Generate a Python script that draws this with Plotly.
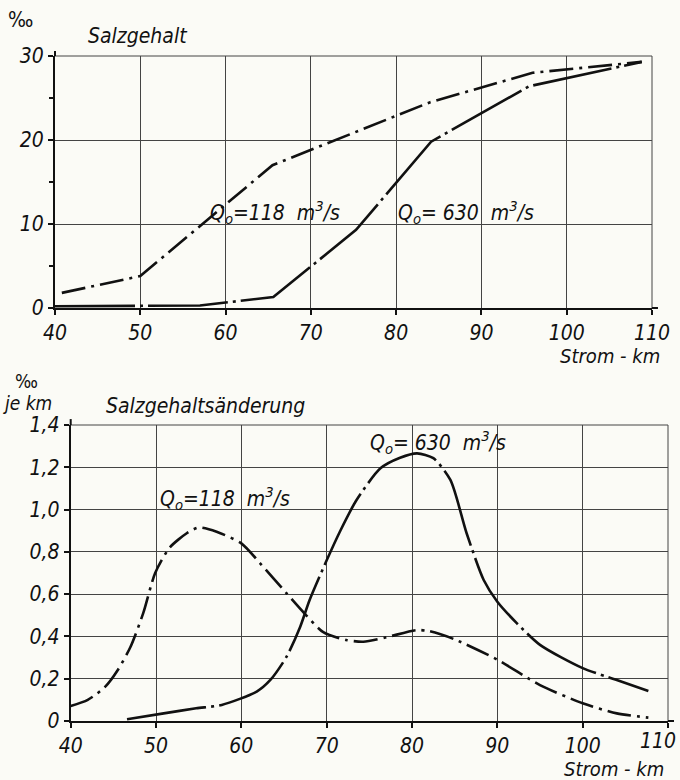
import plotly.graph_objects as go

# ---------------- data ----------------
top_km_118 = [40.8, 50, 65.5, 84, 96, 108.8]
top_sal_118 = [1.8, 3.8, 17.0, 24.5, 28.0, 29.3]

top_km_630 = [40, 57, 65.6, 75.3, 84.1, 95.6, 108.8]
top_sal_630 = [0.2, 0.3, 1.3, 9.3, 19.8, 26.4, 29.3]

bot_km_118 = [40, 42, 44, 45.5, 47, 48.5, 49.9, 51.6, 53.6, 55, 57.1, 60, 62.2, 65.3, 67.6,
              69.6, 72.3, 74.3, 77, 80.5, 82, 85, 90, 95, 100, 104, 107.7]
bot_chg_118 = [0.071, 0.1, 0.16, 0.24, 0.35, 0.51, 0.70, 0.82, 0.888, 0.915, 0.895, 0.84,
               0.746, 0.604, 0.50, 0.42, 0.383, 0.375, 0.396, 0.43, 0.425, 0.386, 0.29, 0.17,
               0.084, 0.036, 0.016]

bot_km_630 = [46.6, 50.9, 54.7, 57.7, 61.8, 63.4, 65.3, 66.9, 68.0, 70.0, 71.6, 73.5, 76.3,
              78.6, 80.6, 82.5, 84.5, 86.4, 88.4, 90, 92.3, 95, 100, 104, 107.7]
bot_chg_630 = [0.008, 0.036, 0.06, 0.076, 0.139, 0.194, 0.304, 0.446, 0.572, 0.76, 0.90, 1.045,
               1.195, 1.245, 1.266, 1.243, 1.14, 0.888, 0.667, 0.564, 0.462, 0.36, 0.25, 0.194,
               0.142]

x_ticks = [40, 50, 60, 70, 80, 90, 100, 110]
x_labels = ["40", "50", "60", "70", "80", "90", "100", "110"]
top_y_ticks = [0, 10, 20, 30]
bot_y_ticks = [0, 0.2, 0.4, 0.6, 0.8, 1.0, 1.2, 1.4]
bot_y_labels = ["0", "0,2", "0,4", "0,6", "0,8", "1,0", "1,2", "1,4"]

# ---------------- styling ----------------
W, H = 680, 780
BG = "#fbfbf6"
INK = "#111111"
FONT = "Liberation Sans Narrow, DejaVu Sans Condensed, Liberation Sans"
DASH_118 = "24px,6px,3px,6px"
DASH_630 = "80px,5px,3px,5px"


def px(x, y):
    return x / W, 1 - y / H


fig = go.Figure()

fig.add_trace(go.Scatter(x=top_km_118, y=top_sal_118, mode="lines", xaxis="x", yaxis="y",
                         line=dict(color=INK, width=2.6, dash=DASH_118), showlegend=False))
fig.add_trace(go.Scatter(x=top_km_630, y=top_sal_630, mode="lines", xaxis="x", yaxis="y",
                         line=dict(color=INK, width=2.6, dash=DASH_630), showlegend=False))
fig.add_trace(go.Scatter(x=bot_km_118, y=bot_chg_118, mode="lines", xaxis="x2", yaxis="y2",
                         line=dict(color=INK, width=2.6, dash=DASH_118, shape="spline",
                                   smoothing=0.7), showlegend=False))
fig.add_trace(go.Scatter(x=bot_km_630, y=bot_chg_630, mode="lines", xaxis="x2", yaxis="y2",
                         line=dict(color=INK, width=2.6, dash=DASH_630, shape="spline",
                                   smoothing=0.7), showlegend=False))

tickfont = dict(family=FONT, size=21, color=INK, style="italic")
common_x = dict(range=[40, 110], tickvals=x_ticks,
                showgrid=True, gridcolor="#444", gridwidth=1, zeroline=False, automargin=False,
                showline=True, linecolor=INK, linewidth=2, ticks="outside", ticklen=5,
                tickwidth=1.5, tickcolor=INK, tickfont=tickfont, fixedrange=True,
                ticklabeloverflow="allow")

# the last bottom tick label sits at the page edge; it is drawn as an annotation below
bot_x_labels = x_labels[:-1] + [""]

fig.update_layout(
    width=W, height=H,
    margin=dict(l=0, r=0, t=0, b=0),
    paper_bgcolor=BG, plot_bgcolor=BG,
    xaxis=dict(domain=[55 / W, 652 / W], anchor="y", ticktext=x_labels, **common_x),
    yaxis=dict(domain=[1 - 308 / H, 1 - 56 / H], anchor="x", range=[0, 30], automargin=False,
               tickvals=top_y_ticks, ticktext=[str(v) for v in top_y_ticks],
               showgrid=True, gridcolor="#444", gridwidth=1, zeroline=False,
               showline=True, linecolor=INK, linewidth=2, ticks="outside", ticklen=5,
               tickwidth=1.5, tickcolor=INK, tickfont=tickfont, ticklabeloverflow="allow",
               minor=dict(tickvals=[5, 15, 25], ticks="outside", ticklen=4, tickcolor=INK,
                          showgrid=False)),
    xaxis2=dict(domain=[70.7 / W, 668 / W], anchor="y2", ticktext=bot_x_labels, **common_x),
    yaxis2=dict(domain=[1 - 721 / H, 1 - 425 / H], anchor="x2", range=[0, 1.4],
                automargin=False, tickvals=bot_y_ticks, ticktext=bot_y_labels,
                showgrid=True, gridcolor="#444", gridwidth=1, zeroline=False,
                showline=True, linecolor=INK, linewidth=2, ticks="outside", ticklen=5,
                tickwidth=1.5, tickcolor=INK, tickfont=tickfont, ticklabeloverflow="allow"),
)

# frame edges (top and right) as thin lines, plus axis overshoot
shapes = []
for xr, yr in (("x", "y"), ("x2", "y2")):
    shapes.append(dict(type="line", xref=f"{xr} domain", yref=f"{yr} domain",
                       x0=0, x1=1, y0=1, y1=1, line=dict(color="#444", width=1)))
    shapes.append(dict(type="line", xref=f"{xr} domain", yref=f"{yr} domain",
                       x0=1, x1=1, y0=0, y1=1, line=dict(color="#444", width=1)))
    shapes.append(dict(type="line", xref=f"{xr} domain", yref=f"{yr} domain",
                       x0=1, x1=1.01, y0=0, y1=0, line=dict(color=INK, width=2)))
    shapes.append(dict(type="line", xref=f"{xr} domain", yref=f"{yr} domain",
                       x0=0, x1=0, y0=1, y1=1.02, line=dict(color=INK, width=2)))
fig.update_layout(shapes=shapes)

ann = []


def add_text(x, y, text, size, xanchor="left", yanchor="middle", style="italic"):
    fx, fy = px(x, y)
    ann.append(dict(xref="paper", yref="paper", x=fx, y=fy, text=text, showarrow=False,
                    xanchor=xanchor, yanchor=yanchor,
                    font=dict(family=FONT, color=INK, size=size, style=style)))


add_text(6, 20, "‰", 21, style="normal")
add_text(86, 36, "Salzgehalt", 21)
add_text(662, 356, "Strom - km", 20, xanchor="right")
add_text(208, 212, "Q<sub>o</sub>=118  m<sup>3</sup>/s", 21)
add_text(396, 212, "Q<sub>o</sub>= 630  m<sup>3</sup>/s", 21)

add_text(26, 381, "‰", 19, xanchor="center", style="normal")
add_text(27, 403, "je km", 19, xanchor="center")
add_text(104, 406, "Salzgehaltsänderung", 21)
add_text(368, 442, "Q<sub>o</sub>= 630  m<sup>3</sup>/s", 21)
add_text(158, 498, "Q<sub>o</sub>=118  m<sup>3</sup>/s", 21)
add_text(666, 769, "Strom - km", 20, xanchor="right")

# last bottom x tick label, nudged left so it stays inside the page
ann.append(dict(xref="x2", yref="y2 domain", x=x_ticks[-1], y=0, text=x_labels[-1],
                showarrow=False, xanchor="right", yanchor="top", xshift=10, yshift=-6,
                font=dict(family=FONT, color=INK, size=21, style="italic")))

fig.update_layout(annotations=ann)

fig.write_html("out.html", config={"displayModeBar": False})

# remove the default page margin so the figure fills the 680x780 window exactly
with open("out.html", "r", encoding="utf-8") as f:
    html = f.read()
html = html.replace("<body>", '<body style="margin:0;padding:0;overflow:hidden;">', 1)
with open("out.html", "w", encoding="utf-8") as f:
    f.write(html)
